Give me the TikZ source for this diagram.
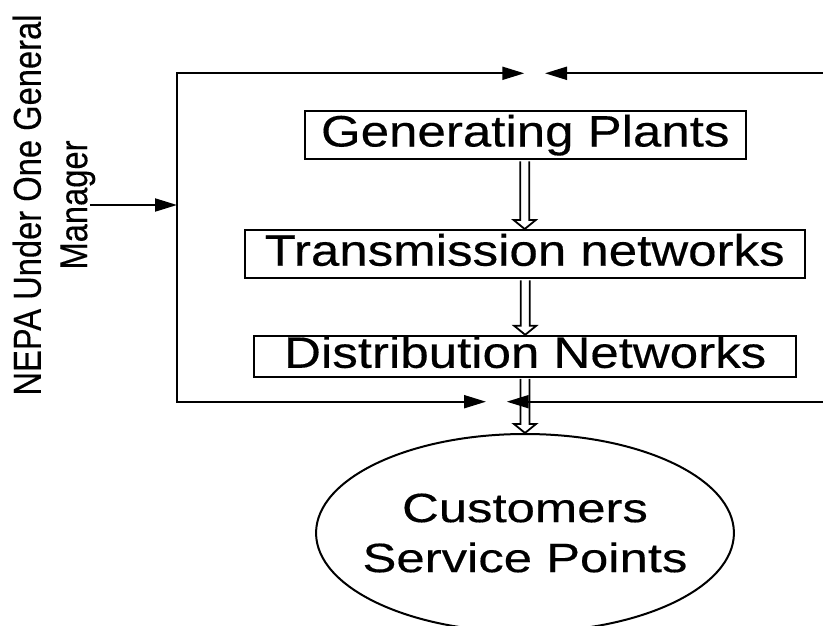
\documentclass[tikz,border=0pt]{standalone}
\usepackage{fontspec}
\setmainfont[FakeBold=0.3,AutoFakeBold=0.3]{Liberation Sans}
\usetikzlibrary{calc,arrows.meta,shapes.geometric}
\tikzset{
  boxnode/.style={draw, line width=2pt, inner sep=0pt, text height=32pt, text depth=9pt,
    font=\fontsize{44}{50}\selectfont},
  arr/.style={line width=2pt, -{Triangle[length=22pt,width=13pt]}},
  framearr/.style={line width=2pt, {Triangle[length=22pt,width=13pt]}-{Triangle[length=22pt,width=13pt]}},
  hollow/.style={line width=1.8pt, fill=white, line join=miter},
}
\newcommand{\hollowarrow}[2]{%
  \draw[hollow] ($(#1.south -| #2.north)+(-4.5,1)$) -- ($(#2.north)+(-4.5,-9)$)
    -- ($(#2.north)+(-11,-9)$) -- (#2.north) -- ($(#2.north)+(11,-9)$)
    -- ($(#2.north)+(4.5,-9)$) -- ($(#1.south -| #2.north)+(4.5,1)$);}
\begin{document}
\begin{tikzpicture}[x=1pt,y=-1pt]
\useasboundingbox (0,0) rectangle (823,626);
% frame coordinates
\coordinate (tl) at (177,73.3);
\coordinate (bl) at (177,401.7);
\coordinate (tipTL) at (524.3,73.3);
\coordinate (tipTR) at (545,73.3);
\coordinate (tr) at (823,73.3);
\coordinate (tipBL) at (486,401.7);
\coordinate (tipBR) at (506.7,401.7);
\coordinate (br) at (823,401.7);
\coordinate (mgr) at (90,205);
\coordinate (lm) at (177,205);
% nodes
\node[boxnode, minimum width=440.6pt, minimum height=48.6pt] (gp) at (525.3,135)
  {\scalebox{1.16}[1]{Generating Plants}};
\node[boxnode, minimum width=560.2pt, minimum height=48.3pt] (tn) at (524.7,254.2)
  {\scalebox{1.16}[1]{Transmission networks}};
\node[boxnode, minimum width=542.5pt, minimum height=40.7pt] (dn) at (525.2,356.3)
  {\scalebox{1.16}[1]{Distribution Networks}};
\node[draw, ellipse, line width=2pt, inner xsep=-130pt, inner ysep=-40pt,
  minimum width=337pt, minimum height=198pt, xscale=1.24, transform shape,
  align=center, font=\fontsize{41}{50}\selectfont] (cust) at (525,533)
  {Customers\\Service Points};
\node[rotate=90, yscale=1.19, transform shape, align=center, inner sep=0pt,
  font=\fontsize{32.7}{39}\selectfont] (nepa) at (53.9,205)
  {NEPA Under One General\\Manager};
% hollow block arrows
\hollowarrow{gp}{tn}
\hollowarrow{tn}{dn}
\hollowarrow{dn}{cust}
% frame
\draw[framearr] (tipTL) -- (tl) -- (bl) -- (tipBL);
\draw[arr] (tr) -- (tipTR);
\draw[arr] (br) -- (tipBR);
\draw[arr] (mgr) -- (lm);
\end{tikzpicture}
\end{document}
